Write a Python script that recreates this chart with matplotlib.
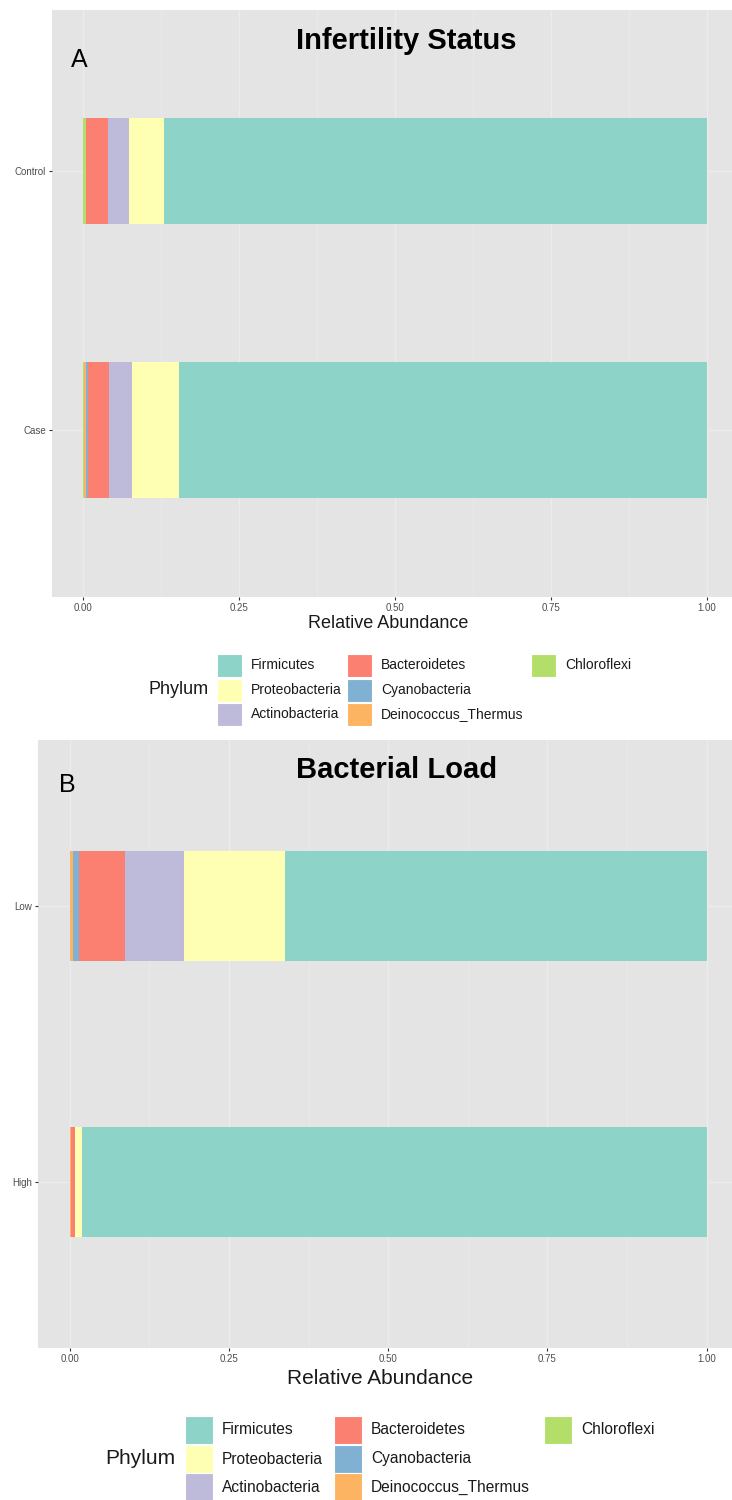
import matplotlib
matplotlib.use("Agg")
import matplotlib.pyplot as plt
from matplotlib.patches import Rectangle
from matplotlib.ticker import MultipleLocator

plt.rcParams['font.family'] = ['Liberation Sans', 'DejaVu Sans']

W, H = 732, 1500

# phyla in factor order (first level ends up at the right end of the stack)
phyla = ["Firmicutes", "Proteobacteria", "Actinobacteria", "Bacteroidetes",
         "Cyanobacteria", "Deinococcus_Thermus", "Chloroflexi"]
phyla_colors = ["#8DD3C7", "#FFFFB3", "#BEBADA", "#FB8072",
                "#80B1D3", "#FDB462", "#B3DE69"]

# relative abundance per group, same order as phyla
status_groups = ["Case", "Control"]
case_abund = [0.847, 0.075, 0.037, 0.033, 0.004, 0.002, 0.002]
control_abund = [0.871, 0.056, 0.033, 0.036, 0.000, 0.000, 0.004]

load_groups = ["High", "Low"]
high_abund = [0.981, 0.011, 0.000, 0.006, 0.000, 0.002, 0.000]
low_abund = [0.662, 0.159, 0.092, 0.073, 0.009, 0.005, 0.000]

x_ticks = [0.0, 0.25, 0.5, 0.75, 1.0]
x_ticklabels = ["0.00", "0.25", "0.50", "0.75", "1.00"]

BG = "#e4e4e4"
GRID = "#ececec"

fig = plt.figure(figsize=(W / 100, H / 100), dpi=100)


def px_axes(left, top, right, bottom):
    return fig.add_axes([left / W, 1 - bottom / H, (right - left) / W, (bottom - top) / H])


def fx(x):
    return x / W


def fy(y):
    return 1 - y / H


def stacked_panel(ax, groups, rows, heights, pad_lo, pad_hi, tick_fs):
    ax.set_facecolor(BG)
    for spine in ax.spines.values():
        spine.set_visible(False)
    for yi, (vals, h) in enumerate(zip(rows, heights)):
        left = 0.0
        # stack from the last level so Firmicutes sits on the right
        for i in reversed(range(len(phyla))):
            if vals[i] > 0:
                ax.barh(yi, vals[i], left=left, height=h, color=phyla_colors[i],
                        linewidth=0, zorder=3)
            left += vals[i]
    ax.set_xlim(-0.05, 1.04)
    ax.set_ylim(-pad_lo, len(groups) - 1 + pad_hi)
    ax.set_xticks(x_ticks)
    ax.set_xticklabels(x_ticklabels)
    ax.xaxis.set_minor_locator(MultipleLocator(0.125))
    ax.set_yticks(range(len(groups)))
    ax.set_yticklabels(groups)
    ax.grid(which="major", color=GRID, linewidth=0.9, zorder=0)
    ax.grid(which="minor", axis="x", color=GRID, linewidth=0.5, zorder=0)
    ax.set_axisbelow(True)
    ax.tick_params(axis="both", which="major", length=2.5, width=0.8, color="#333333",
                   labelsize=tick_fs, labelcolor="#4d4d4d", pad=2)
    ax.tick_params(axis="both", which="minor", length=0)


def draw_legend(title_x, title_y, title_fs, col_x, row_y, key_w, key_h, label_gap, label_fs):
    fig.text(fx(title_x), fy(title_y), "Phylum", fontsize=title_fs, color="#1a1a1a",
             ha="left", va="center")
    for i, (name, col) in enumerate(zip(phyla, phyla_colors)):
        c, r = divmod(i, 3)
        kx, ky = col_x[c], row_y[r]
        fig.add_artist(Rectangle((fx(kx), fy(ky + key_h / 2)), key_w / W, key_h / H,
                                 transform=fig.transFigure, facecolor=col,
                                 edgecolor="white", linewidth=0.8))
        fig.text(fx(kx + key_w + label_gap), fy(ky), name, fontsize=label_fs,
                 color="#1a1a1a", ha="left", va="center")


# Panel A: infertility status
axA = px_axes(52, 10, 732, 597)
stacked_panel(axA, status_groups, [case_abund, control_abund], [0.525, 0.41],
              0.645, 0.62, 7)
axA.text((406 - 52) / 680, 1 - 31 / 587, "Infertility Status", transform=axA.transAxes,
         ha="center", va="center", fontsize=21, fontweight="bold")
axA.text((79 - 52) / 680, 1 - 50 / 587, "A", transform=axA.transAxes,
         ha="center", va="center", fontsize=18)
fig.text(fx(388), fy(623), "Relative Abundance", ha="center", va="center",
         fontsize=13, color="#1a1a1a")
draw_legend(148, 690, 13, [217, 347, 531], [665, 690, 714], 25, 23, 9, 10)

# Panel B: bacterial load
axB = px_axes(38, 740, 732, 1348)
stacked_panel(axB, load_groups, [high_abund, low_abund], [0.40, 0.40],
              0.6, 0.6, 7)
axB.text((397 - 38) / 694, 1 - 30 / 608, "Bacterial Load", transform=axB.transAxes,
         ha="center", va="center", fontsize=21, fontweight="bold")
axB.text((67 - 38) / 694, 1 - 45 / 608, "B", transform=axB.transAxes,
         ha="center", va="center", fontsize=18)
fig.text(fx(380), fy(1378), "Relative Abundance", ha="center", va="center",
         fontsize=15, color="#1a1a1a")
draw_legend(105, 1459, 15, [185, 334, 544], [1430, 1459, 1487], 28, 28, 9, 11.2)

fig.savefig("out.png", dpi=100)
